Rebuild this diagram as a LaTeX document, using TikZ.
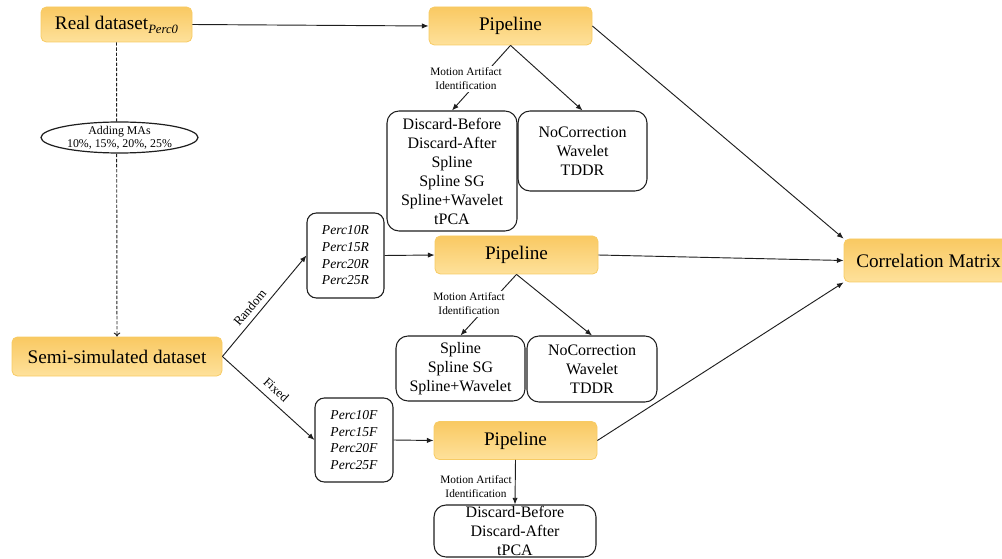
\documentclass[tikz,border=0pt]{standalone}
\usepackage{fontspec}
\setmainfont{Liberation Serif}
\usetikzlibrary{arrows.meta,shapes.geometric}
\definecolor{orTop}{RGB}{249,201,98}
\definecolor{orBot}{RGB}{254,225,155}
\definecolor{orLine}{RGB}{247,203,100}
\definecolor{boxLine}{RGB}{30,30,30}
\begin{document}
\begin{tikzpicture}[x=0.75pt,y=-0.75pt,
  orbox/.style={rounded corners=4pt, draw=orLine, line width=0.6pt, top color=orTop, bottom color=orBot,
    inner sep=0pt, font=\fontsize{14.4}{17}\selectfont, minimum width=122.25pt, minimum height=28.5pt},
  wbox/.style={rounded corners=9pt, draw=boxLine, line width=0.8pt, fill=white, inner sep=0pt,
    align=center, font=\fontsize{12}{14.25}\selectfont},
  pbox/.style={wbox, rounded corners=7pt, font=\fontsize{10.2}{12.5}\selectfont\itshape},
  lbl/.style={fill=white, inner sep=1.5pt, align=center, font=\fontsize{8.5}{10.5}\selectfont},
  slbl/.style={inner sep=1pt, font=\fontsize{9.6}{10}\selectfont, sloped},
  arr/.style={-{Latex[length=5pt,width=4pt]}, line width=0.7pt, draw=boxLine},
  darr/.style={-{To[length=3pt,width=5pt]}, line width=0.7pt, draw=boxLine, dash pattern=on 2.5pt off 1.3pt}
]
\useasboundingbox (0,0) rectangle (1002,559);

% orange boxes
\node[orbox, minimum width=113.25pt, minimum height=26.25pt] (real) at (116.5,24.5)
  {Real dataset\raisebox{-3pt}{\fontsize{9.5}{10}\selectfont\itshape Perc0}};
\node[orbox] (pipe1) at (510.5,26) {Pipeline};
\node[orbox] (pipe2) at (516.5,255) {Pipeline};
\node[orbox] (pipe3) at (515.5,440.5) {Pipeline};
\node[orbox, minimum width=157.5pt, minimum height=29.25pt] (semi) at (117,356.5) {Semi-simulated dataset};
\node[orbox, minimum width=126.75pt, minimum height=32.25pt] (corr) at (928.5,260.5) {Correlation Matrix};

% white boxes
\node[wbox, minimum width=97.5pt, minimum height=90pt] (a1) at (452,171)
  {Discard-Before\\Discard-After\\Spline\\Spline SG\\Spline+Wavelet\\tPCA};
\node[wbox, minimum width=96.75pt, minimum height=60pt] (b1) at (582.5,151)
  {NoCorrection\\Wavelet\\TDDR};
\node[wbox, minimum width=96.75pt, minimum height=48.75pt] (a2) at (460.5,368.5)
  {Spline\\Spline SG\\Spline+Wavelet};
\node[wbox, minimum width=97.5pt, minimum height=49.5pt] (b2) at (592,369)
  {NoCorrection\\Wavelet\\TDDR};
\node[wbox, minimum width=121.5pt, minimum height=39pt] (a3) at (515,531)
  {Discard-Before\\Discard-After\\tPCA};
\node[pbox, minimum width=57.75pt, minimum height=63.75pt] (pr) at (345.5,255.5)
  {Perc10R\\Perc15R\\Perc20R\\Perc25R};
\node[pbox, minimum width=58.5pt, minimum height=63pt] (pf) at (354,440)
  {Perc10F\\Perc15F\\Perc20F\\Perc25F};

% connectors
\draw[arr] (real.east) -- (pipe1.west);
\draw[darr] (real.south) -- (semi.north);
\draw[arr] (pipe1.south) -- (a1.north);
\draw[arr] (pipe1.south) -- (b1.north);
\draw[arr] (pipe1.east) -- (corr.north west);
\draw[arr] (semi.east) -- node[slbl, pos=0.42, above=3pt] {Random} (pr.west);
\draw[arr] (semi.east) -- node[slbl, pos=0.5, above=4pt] {Fixed} (pf.west);
\draw[arr] (pr.east) -- (pipe2.west);
\draw[arr] (pipe2.south) -- (a2.north);
\draw[arr] (pipe2.south) -- (b2.north);
\draw[arr] (pipe2.east) -- (corr.west);
\draw[arr] (pf.east) -- (pipe3.west);
\draw[arr] (pipe3.east) -- (corr.south west);
\draw[arr] (pipe3.south) -- (a3.north);

% ellipse and labels
\node[draw=boxLine, ellipse, fill=white, line width=0.9pt, minimum width=117.75pt, minimum height=23.25pt, inner sep=0pt] (ma) at (119.5,137.5) {};
\node[lbl, fill=none, font=\fontsize{8.9}{10}\selectfont] (matext) at (ma.center) {Adding MAs\\10\%, 15\%, 20\%, 25\%};
\node[lbl] (mai1) at (466,79) {Motion Artifact\\Identification};
\node[lbl] (mai2) at (469,304) {Motion Artifact\\Identification};
\node[lbl, fill=none, inner sep=0pt] (mai3) at (476,486.5) {Motion Artifact\\Identification};
\end{tikzpicture}
\end{document}
